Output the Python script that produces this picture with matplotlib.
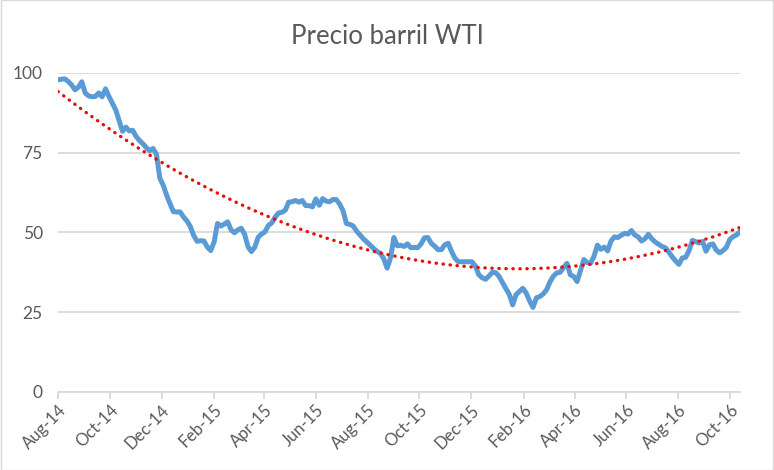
import matplotlib.pyplot as plt
import matplotlib.dates as mdates
import numpy as np
import pandas as pd

# precio WTI, una lectura cada 4 dias desde 1-ago-2014
precios = [
    97.8, 98.0, 98.1, 97.3, 96.2, 94.7, 95.5, 97.2, 93.7, 92.8,
    92.5, 92.6, 93.7, 92.5, 95.0, 92.6, 90.5, 88.4, 85.0, 81.7,
    83.0, 81.8, 82.0, 80.1, 78.8, 77.8, 76.6, 75.6, 76.3, 74.5,
    67.0, 64.8, 61.7, 59.0, 56.5, 56.4, 56.4, 54.8, 53.6, 51.8,
    49.0, 47.2, 47.4, 47.3, 45.4, 44.3, 47.0, 52.8, 52.0, 52.6,
    53.3, 50.8, 49.9, 50.8, 51.3, 49.4, 45.5, 44.0, 45.4, 48.5,
    49.5, 50.2, 52.2, 53.0, 54.8, 56.1, 56.3, 57.0, 59.5, 59.6,
    60.0, 59.5, 60.0, 58.4, 58.4, 58.0, 60.5, 58.5, 60.6, 59.8,
    59.6, 60.3, 60.3, 58.9, 56.8, 52.8, 52.5, 52.0, 50.4, 49.2,
    48.0, 47.0, 46.0, 45.0, 44.1, 43.4, 41.8, 38.8, 42.0, 48.4,
    45.8, 46.0, 45.6, 46.4, 45.2, 45.3, 45.2, 46.4, 48.3, 48.4,
    46.6, 45.7, 44.6, 44.6, 46.1, 46.6, 44.0, 41.9, 40.8, 40.8,
    40.8, 40.8, 40.8, 39.5, 36.8, 35.8, 35.3, 36.3, 37.5, 37.4,
    36.2, 34.3, 32.4, 30.6, 27.3, 30.5, 31.5, 32.5, 31.0, 28.5,
    26.5, 29.5, 29.9, 30.7, 32.0, 34.5, 36.3, 37.3, 37.5, 39.0,
    40.3, 36.7, 36.2, 34.6, 38.0, 41.5, 40.5, 40.4, 42.6, 46.0,
    44.7, 45.4, 44.2, 47.3, 48.6, 48.4, 49.1, 49.7, 49.5, 50.6,
    49.2, 48.6, 47.3, 48.0, 49.4, 48.0, 47.0, 46.3, 45.6, 45.2,
    43.9, 42.4, 41.1, 40.0, 42.0, 42.2, 44.3, 47.5, 47.1, 46.7,
    47.2, 44.1, 46.1, 46.4, 44.5, 43.6, 44.3, 45.3, 47.8, 48.7,
    49.2, 50.3,
]
fechas = pd.date_range("2014-08-01", periods=len(precios), freq="4D")

titulo = "Precio barril WTI"
valores_y = [0, 25, 50, 75, 100]

gris_texto = "#595959"
gris_linea = "#D9D9D9"

plt.rcParams["font.family"] = ["Lato", "DejaVu Sans"]

fig = plt.figure(figsize=(7.74, 4.70), dpi=100)
ax = fig.add_axes([0.075, 0.166, 0.881, 0.679])

ax.plot(fechas, precios, color="#5B9BD5", lw=3.6, solid_joinstyle="round", zorder=3)

# linea de tendencia polinomica de orden 2 (como la de Excel)
dias = (fechas - fechas[0]).days.values.astype(float)
coef = np.polyfit(dias, precios, 2)
ax.plot(fechas, np.polyval(coef, dias), color="#E8100C", lw=2.4,
        linestyle=(0, (0.1, 2.0)), dash_capstyle="round", zorder=4)

ax.set_ylim(0, 100)
ax.set_yticks(valores_y)
ax.set_xlim(fechas[0], fechas[-1])
ax.xaxis.set_major_locator(mdates.MonthLocator(bymonth=[2, 4, 6, 8, 10, 12]))
ax.xaxis.set_major_formatter(mdates.DateFormatter("%b-%y"))

ax.grid(axis="y", color=gris_linea, lw=1.3)
ax.set_axisbelow(True)
for lado in ["top", "right", "left"]:
    ax.spines[lado].set_visible(False)
ax.spines["bottom"].set_color(gris_linea)
ax.spines["bottom"].set_linewidth(1.3)

ax.tick_params(axis="y", length=0, pad=11, labelsize=12.5, labelcolor=gris_texto)
ax.tick_params(axis="x", length=5, width=1.3, color=gris_linea, pad=2,
               labelsize=12, labelcolor=gris_texto)
for t in ax.get_xticklabels():
    t.set_rotation(45)
    t.set_ha("right")
    t.set_rotation_mode("anchor")

fig.text(0.5, 0.923, titulo, ha="center", va="center", fontsize=18.5, color=gris_texto)

fig.patches.append(plt.Rectangle((0.001, 0.001), 0.998, 0.998, transform=fig.transFigure,
                                 fill=False, edgecolor=gris_linea, lw=1))

fig.savefig("out.png", dpi=100)
